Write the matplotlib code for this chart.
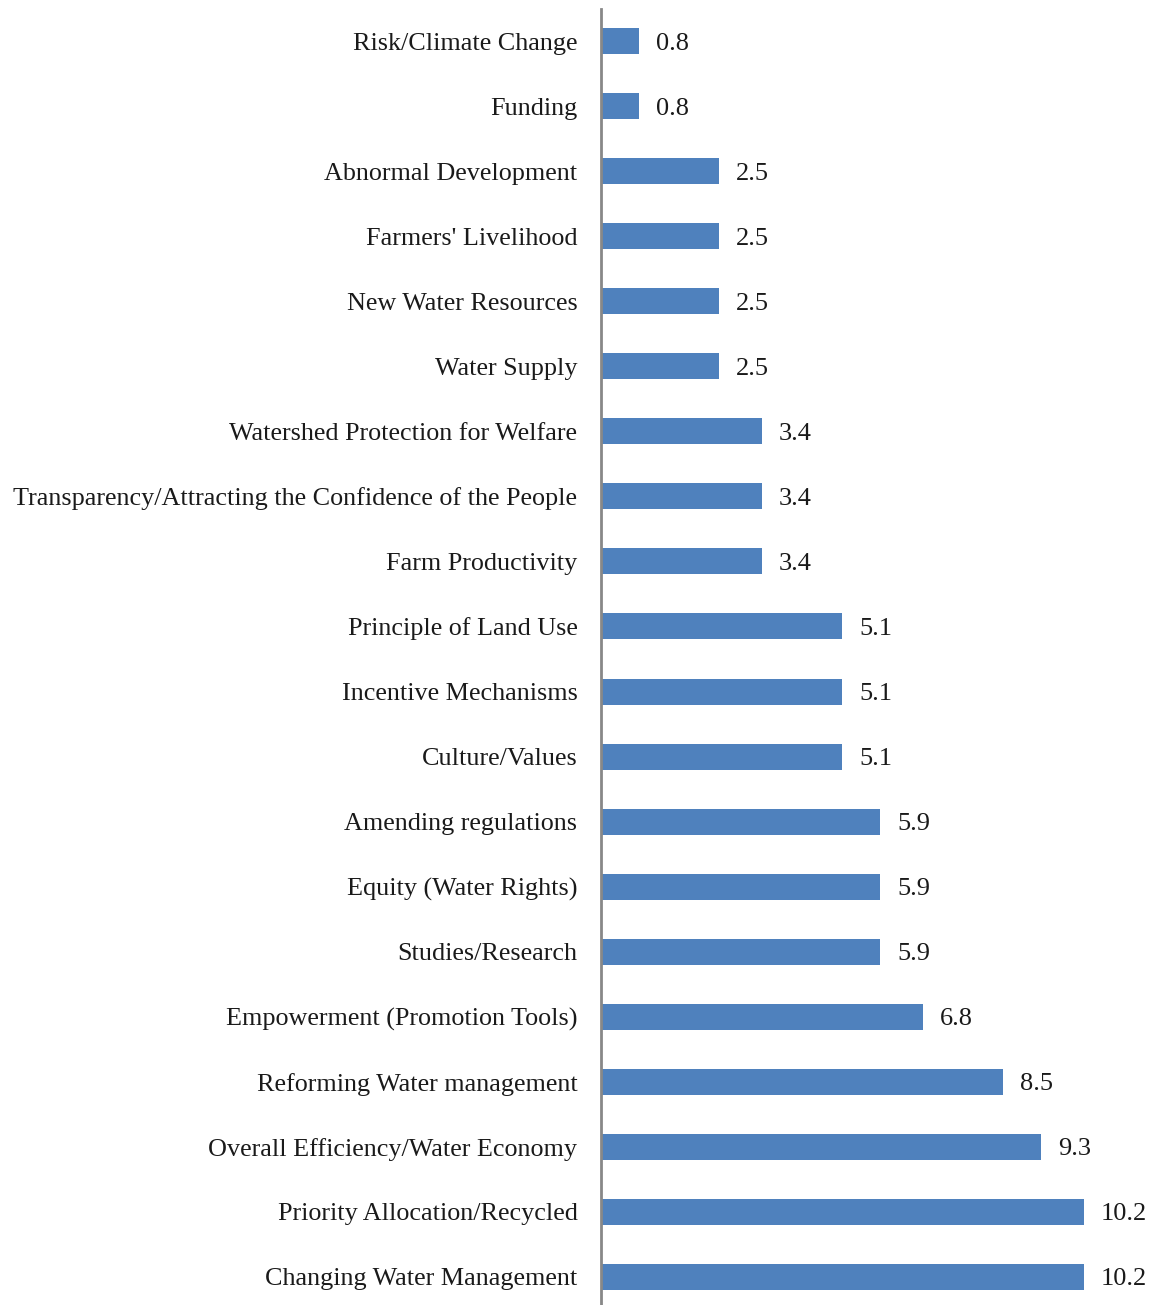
import numpy as np
import matplotlib.pyplot as plt

# categories from top to bottom
categories = [
    "Risk/Climate Change",
    "Funding",
    "Abnormal Development",
    "Farmers' Livelihood",
    "New Water Resources",
    "Water Supply",
    "Watershed Protection for Welfare",
    "Transparency/Attracting the Confidence of the People",
    "Farm Productivity",
    "Principle of Land Use",
    "Incentive Mechanisms",
    "Culture/Values",
    "Amending regulations",
    "Equity (Water Rights)",
    "Studies/Research",
    "Empowerment (Promotion Tools)",
    "Reforming Water management",
    "Overall Efficiency/Water Economy",
    "Priority Allocation/Recycled",
    "Changing Water Management",
]
values = [0.8, 0.8, 2.5, 2.5, 2.5, 2.5, 3.4, 3.4, 3.4, 5.1,
          5.1, 5.1, 5.9, 5.9, 5.9, 6.8, 8.5, 9.3, 10.2, 10.2]

plt.rcParams['font.family'] = ['Liberation Serif', 'DejaVu Serif']

W, H = 1163, 1305
fig = plt.figure(figsize=(W / 100, H / 100), dpi=100)
ax = fig.add_axes([601 / W, 0, 1 - 601 / W, (H - 8.5) / H])

y = np.arange(len(categories))
ax.barh(y, values, height=0.4, color='#4F81BD')

for yi, v in zip(y, values):
    ax.annotate(f"{v}", (v, yi), xytext=(12, 0), textcoords='offset points',
                va='center_baseline', ha='left', fontsize=19, color='#1a1a1a')

ax.set_xlim(0, 562 / 47.35)
ax.set_ylim(19 + (H - 1277) / 65.05, -0.5)
ax.set_yticks(y)
ax.set_yticklabels(categories, fontsize=18.8, color='#1a1a1a',
                   va='center_baseline')
ax.tick_params(axis='y', length=0, pad=17)
ax.set_xticks([])

for s in ['top', 'right', 'bottom']:
    ax.spines[s].set_visible(False)
ax.spines['left'].set_color('#888888')
ax.spines['left'].set_linewidth(2)

fig.savefig('out.png', dpi=100)
